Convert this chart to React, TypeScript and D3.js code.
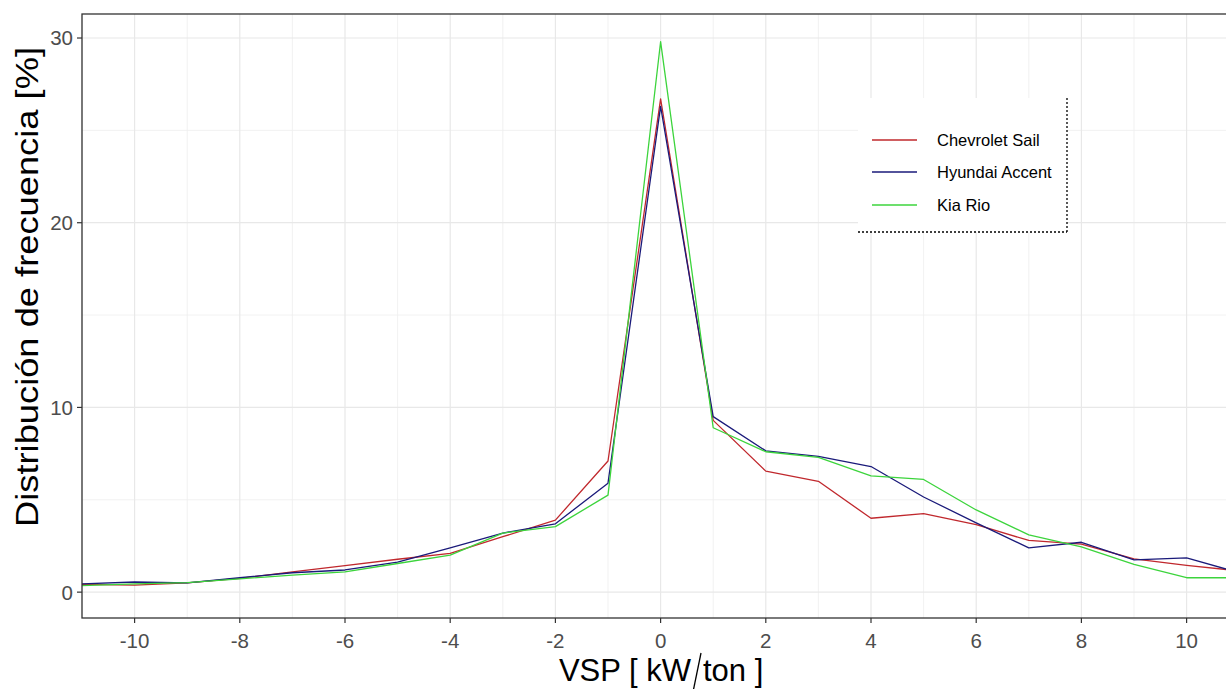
import React from "react";
import * as d3 from "d3";

const vsp = [-11, -10, -9, -8, -7, -6, -5, -4, -3, -2, -1, 0, 1, 2, 3, 4, 5, 6, 7, 8, 9, 10, 11];
const chevroletSail = [0.42, 0.38, 0.5, 0.75, 1.1, 1.43, 1.78, 2.1, 3.0, 3.9, 7.1, 26.7, 9.3, 6.55, 6.0, 4.0, 4.25, 3.65, 2.8, 2.6, 1.8, 1.45, 1.15];
const hyundaiAccent = [0.45, 0.55, 0.5, 0.78, 1.05, 1.2, 1.62, 2.4, 3.2, 3.7, 5.9, 26.3, 9.5, 7.65, 7.35, 6.8, 5.15, 3.75, 2.4, 2.7, 1.75, 1.85, 1.05];
const kiaRio = [0.35, 0.45, 0.52, 0.72, 0.92, 1.1, 1.55, 2.0, 3.2, 3.55, 5.25, 29.8, 8.9, 7.6, 7.3, 6.3, 6.1, 4.45, 3.1, 2.45, 1.5, 0.78, 0.78];

const seriesNames = ["Chevrolet Sail", "Hyundai Accent", "Kia Rio"];
const seriesColors = ["#C0282D", "#1A1A7A", "#3CD43C"];
const xTicks = [-10, -8, -6, -4, -2, 0, 2, 4, 6, 8, 10];
const xMinor = [-11, -9, -7, -5, -3, -1, 1, 3, 5, 7, 9, 11];
const yTicks = [0, 10, 20, 30];
const yMinor = [5, 15, 25];

const W = 1226;
const H = 689;
const FONT = "'Liberation Sans', Arial, sans-serif";

export default function App() {
  const left = 82;
  const top = 14;
  const bottom = 618;
  const x = d3.scaleLinear().domain([-11, 11]).range([left, left + 22 * 52.6]);
  const y = d3.scaleLinear().domain([-1.4, 31.3]).range([bottom, top]);
  const right = x(11);

  const allSeries = [chevroletSail, hyundaiAccent, kiaRio];
  const line = d3
    .line<number>()
    .x((_, i) => x(vsp[i]))
    .y((d) => y(d));

  const legendY = [140, 172, 205];

  return (
    <svg
      width={W}
      height={H}
      style={{ position: "absolute", left: 0, top: 0, background: "#fff" }}
      fontFamily={FONT}
    >
      <defs>
        <clipPath id="panel">
          <rect x={left} y={top} width={right - left} height={bottom - top} />
        </clipPath>
      </defs>
      <rect x={0} y={0} width={W} height={H} fill="#fff" />
      {/* grid */}
      <g>
        {yMinor.map((v) => (
          <line key={"ym" + v} x1={left} x2={right} y1={y(v)} y2={y(v)} stroke="#EEEEEE" strokeWidth={0.8} />
        ))}
        {xMinor.map((v) => (
          <line key={"xm" + v} x1={x(v)} x2={x(v)} y1={top} y2={bottom} stroke="#EEEEEE" strokeWidth={0.8} />
        ))}
        {yTicks.map((v) => (
          <line key={"yM" + v} x1={left} x2={right} y1={y(v)} y2={y(v)} stroke="#E8E8E8" strokeWidth={1.2} />
        ))}
        {xTicks.map((v) => (
          <line key={"xM" + v} x1={x(v)} x2={x(v)} y1={top} y2={bottom} stroke="#E8E8E8" strokeWidth={1.2} />
        ))}
      </g>
      {/* lines */}
      <g clipPath="url(#panel)">
        {allSeries.map((s, i) => (
          <path key={i} d={line(s) || ""} fill="none" stroke={seriesColors[i]} strokeWidth={1.3} strokeLinejoin="round" />
        ))}
      </g>
      {/* panel border */}
      <rect x={left} y={top} width={right - left} height={bottom - top} fill="none" stroke="#333" strokeWidth={1.3} />
      {/* y axis ticks */}
      {yTicks.map((v) => (
        <g key={"yt" + v}>
          <line x1={left - 5} x2={left} y1={y(v)} y2={y(v)} stroke="#333" strokeWidth={1.2} />
          <text x={left - 9} y={y(v)} dy="0.36em" textAnchor="end" fontSize={20.5} fill="#4D4D4D">
            {v}
          </text>
        </g>
      ))}
      {/* x axis ticks */}
      {xTicks.map((v) => (
        <g key={"xt" + v}>
          <line x1={x(v)} x2={x(v)} y1={bottom} y2={bottom + 5} stroke="#333" strokeWidth={1.2} />
          <text x={x(v)} y={648} textAnchor="middle" fontSize={20.5} fill="#4D4D4D">
            {v}
          </text>
        </g>
      ))}
      {/* axis titles */}
      <text x={691} y={681} fontSize={31} fill="#000" textAnchor="end">
        VSP [ kW
      </text>
      <line x1={701} y1={653} x2={693} y2={692} stroke="#000" strokeWidth={1.3} />
      <text x={703} y={681} fontSize={31} fill="#000">
        ton ]
      </text>
      <text
        transform={`translate(38, 287) rotate(-90)`}
        textAnchor="middle"
        fontSize={31}
        fill="#000"
        textLength={480}
        lengthAdjust="spacingAndGlyphs"
      >
        Distribución de frecuencia [%]
      </text>
      {/* legend */}
      <g>
        <rect x={858} y={98} width={209} height={134} fill="#fff" />
        <line x1={1067} y1={98} x2={1067} y2={232} stroke="#000" strokeWidth={1.3} strokeDasharray="2,2" />
        <line x1={858} y1={232} x2={1067} y2={232} stroke="#000" strokeWidth={1.3} strokeDasharray="2,2" />
        {seriesNames.map((n, i) => (
          <g key={n}>
            <line x1={872} x2={917} y1={legendY[i]} y2={legendY[i]} stroke={seriesColors[i]} strokeWidth={1.3} />
            <text x={937} y={legendY[i]} dy="0.35em" fontSize={16.5} fill="#000">
              {n}
            </text>
          </g>
        ))}
      </g>
    </svg>
  );
}
